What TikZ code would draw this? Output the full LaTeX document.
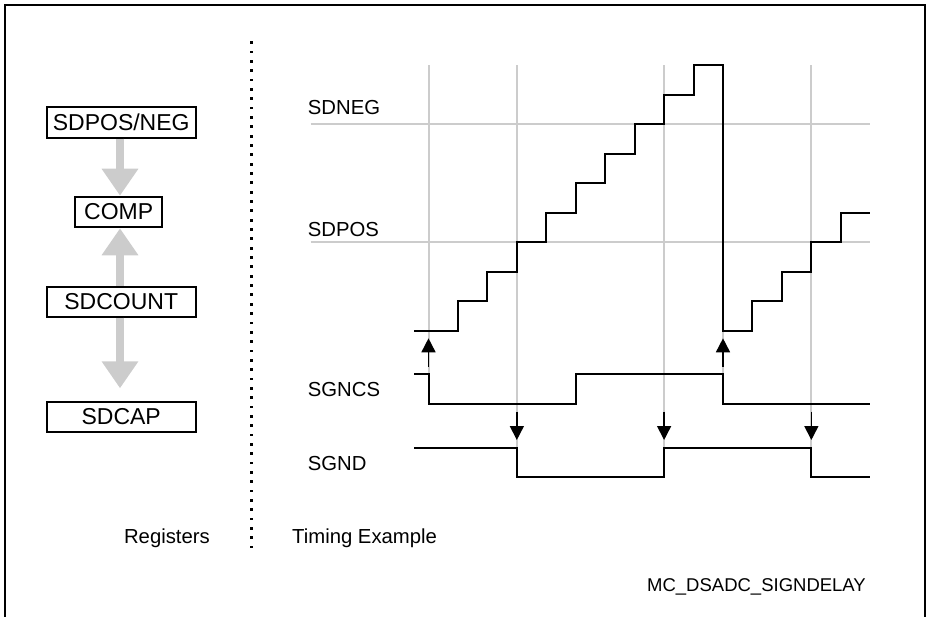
\documentclass[tikz,border=0pt]{standalone}
\usepackage{fontspec}
\setmainfont{Liberation Sans}
\usetikzlibrary{arrows.meta}
\begin{document}
\begin{tikzpicture}[x=1pt,y=-1pt,
  reg/.style={draw,line width=2pt,fill=white,inner sep=0pt,minimum width=149pt,minimum height=30.6pt,font=\fontsize{23}{27}\selectfont},
  lbl/.style={inner sep=0pt,anchor=base west,font=\fontsize{20.3}{24}\selectfont},
  grid/.style={draw=black!20,line width=2pt},
  sig/.style={draw=black,line width=2pt},
  garrow/.style={draw=black!20,line width=8.3pt,-{Triangle[width=35pt,length=27pt]}},
  barrow/.style={draw=black,line width=1.6pt,-{Triangle[width=14pt,length=14pt]}}]
\useasboundingbox (0,0) rectangle (926,616);
% frame
\draw[line width=2pt] (5,625) -- (5,5) -- (925,5) -- (925,625);
% dotted separator
\foreach \i in {0,...,54} \fill (250.3,41.3+9.34*\i) rectangle ++(2.8,2.8);
% register boxes
\node[reg] (sdpos) at (121.2,122.2) {SDPOS/NEG};
\node[reg,minimum width=87.3pt] (comp) at (118.7,212) {COMP};
\node[reg,minimum height=30pt] (sdcount) at (121.2,301.7) {SDCOUNT};
\node[reg] (sdcap) at (121.2,417) {SDCAP};
\coordinate (ax) at (120,0);
\coordinate (a3end) at (120,388.3);
\draw[garrow] (sdpos.south -| ax) -- (comp.north -| ax);
\draw[garrow] (sdcount.north -| ax) -- (comp.south -| ax);
\draw[garrow] (sdcount.south -| ax) -- (a3end);
% labels
\node[lbl] (lneg) at (307.7,114.5) {SDNEG};
\node[lbl] (lpos) at (307.7,236.7) {SDPOS};
\node[lbl] (lncs) at (307.7,396) {SGNCS};
\node[lbl] (lsgnd) at (307.7,470) {SGND};
\node[lbl,anchor=base east] (lreg) at (210,543) {Registers};
\node[lbl] (ltim) at (292,543) {Timing Example};
\node[inner sep=0pt,anchor=base east,font=\fontsize{18.5}{22}\selectfont] (lmc) at (866,591) {MC\_DSADC\_SIGNDELAY};
% grid
\draw[grid] (310.7,124.2) -- (870,124.2);
\draw[grid] (310.7,242.2) -- (870,242.2);
\draw[grid] (428.5,65.2) -- (428.5,374.3);
\draw[grid] (723,65.2) -- (723,374.3);
\draw[grid] (516.85,65.2) -- (516.85,448);
\draw[grid] (664.1,65.2) -- (664.1,448);
\draw[grid] (811.35,65.2) -- (811.35,448);
% staircase counter
\draw[sig] (414,330.7) -| (457.95,301.2) -| (487.4,271.7) -| (516.85,242.2) -| (546.3,212.7)
  -| (575.75,183.2) -| (605.2,153.7) -| (634.65,124.2) -| (664.1,94.7) -| (693.55,65.2)
  -| (723,330.7) -| (752.45,301.2) -| (781.9,271.7) -| (811.35,242.2) -| (840.8,212.7) -- (870,212.7);
% SGNCS
\draw[sig] (414,374.3) -| (428.5,404) -| (575.75,374.3) -| (723,404) -- (870,404);
% SGND
\draw[sig] (414,448) -| (516.85,476.7) -| (664.1,448) -| (811.35,476.7) -- (870,476.7);
% arrows
\coordinate (u1a) at (428.5,366.7); \coordinate (u1b) at (428.5,338.3);
\coordinate (u2a) at (723,366.7); \coordinate (u2b) at (723,338.3);
\coordinate (d1a) at (516.85,411.7); \coordinate (d1b) at (516.85,440);
\coordinate (d2a) at (664.1,411.7); \coordinate (d2b) at (664.1,440);
\coordinate (d3a) at (811.35,411.7); \coordinate (d3b) at (811.35,440);
\draw[barrow] (u1a) -- (u1b);
\draw[barrow] (u2a) -- (u2b);
\draw[barrow] (d1a) -- (d1b);
\draw[barrow] (d2a) -- (d2b);
\draw[barrow] (d3a) -- (d3b);
\end{tikzpicture}
\end{document}
